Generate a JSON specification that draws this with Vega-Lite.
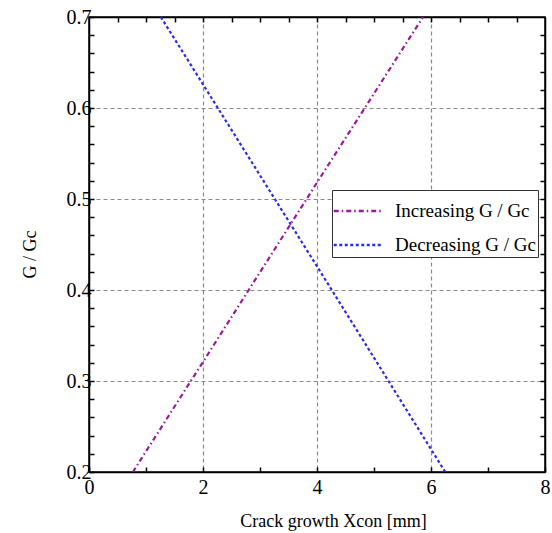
{
  "$schema": "https://vega.github.io/schema/vega-lite/v6.json",
  "autosize": "none",
  "width": 456,
  "height": 455,
  "padding": {"left": 89, "top": 17, "right": 7, "bottom": 61},
  "background": "white",
  "config": {
    "view": {"stroke": "black", "strokeWidth": 1.5},
    "font": "Liberation Serif"
  },
  "data": {
    "values": [
      {"series": "Increasing G / Gc", "x": 0.77, "y": 0.2},
      {"series": "Increasing G / Gc", "x": 2.0, "y": 0.321},
      {"series": "Increasing G / Gc", "x": 4.0, "y": 0.518},
      {"series": "Increasing G / Gc", "x": 5.86, "y": 0.7},
      {"series": "Decreasing G / Gc", "x": 1.26, "y": 0.7},
      {"series": "Decreasing G / Gc", "x": 2.0, "y": 0.626},
      {"series": "Decreasing G / Gc", "x": 4.0, "y": 0.426},
      {"series": "Decreasing G / Gc", "x": 6.25, "y": 0.2}
    ]
  },
  "resolve": {"axis": {"x": "independent", "y": "independent"}},
  "layer": [
    {
      "mark": {"type": "line", "strokeWidth": 2.2, "clip": true},
      "encoding": {
        "x": {
          "field": "x", "type": "quantitative",
          "scale": {"domain": [0, 8], "nice": false, "zero": false},
          "axis": {
            "orient": "bottom",
            "values": [0, 0.5, 1, 1.5, 2, 2.5, 3, 3.5, 4, 4.5, 5, 5.5, 6, 6.5, 7, 7.5, 8],
            "labelExpr": "datum.value % 2 === 0 ? datum.label : ''",
            "format": "d",
            "labelFont": "Liberation Serif", "labelFontSize": 20, "labelColor": "black",
            "labelPadding": 10, "labelFlush": false, "labelOverlap": false,
            "tickSize": -5, "tickColor": "black", "tickWidth": 1.5,
            "domainColor": "black", "domainWidth": 1.5,
            "grid": true, "gridColor": "#8a8a8a", "gridDash": [4, 3], "gridWidth": 1.2,
            "gridOpacity": {"condition": {"test": "datum.value % 2 === 0 && datum.value > 0 && datum.value < 8", "value": 1}, "value": 0},
            "title": "Crack growth  Xcon [mm]",
            "titleFont": "Liberation Serif", "titleFontSize": 18, "titleFontWeight": "normal", "titleColor": "black",
            "titlePadding": 15, "titleX": 244
          }
        },
        "y": {
          "field": "y", "type": "quantitative",
          "scale": {"domain": [0.2, 0.7], "nice": false, "zero": false},
          "axis": {
            "orient": "left",
            "values": [0.2, 0.22, 0.24, 0.26, 0.28, 0.3, 0.32, 0.34, 0.36, 0.38, 0.4, 0.42, 0.44, 0.46, 0.48, 0.5, 0.52, 0.54, 0.56, 0.58, 0.6, 0.62, 0.64, 0.66, 0.68, 0.7],
            "format": ".1f",
            "labelExpr": "abs(datum.value * 10 - round(datum.value * 10)) < 0.001 ? datum.label : ''",
            "labelFont": "Liberation Serif", "labelFontSize": 20, "labelColor": "black",
            "labelPadding": 3, "labelFlush": false, "labelOverlap": false,
            "tickSize": -5, "tickColor": "black", "tickWidth": 1.5,
            "domainColor": "black", "domainWidth": 1.5,
            "grid": true, "gridColor": "#8a8a8a", "gridDash": [4, 3], "gridWidth": 1.2,
            "gridOpacity": {"condition": {"test": "abs(datum.value * 10 - round(datum.value * 10)) < 0.001 && datum.value > 0.21 && datum.value < 0.69", "value": 1}, "value": 0},
            "title": "G / Gc",
            "titleFont": "Liberation Serif", "titleFontSize": 18, "titleFontWeight": "normal", "titleColor": "black",
            "titlePadding": 27, "titleY": 237
          }
        },
        "color": {
          "field": "series", "type": "nominal",
          "scale": {"domain": ["Increasing G / Gc", "Decreasing G / Gc"], "range": ["#9b1a9b", "#2a2af0"]},
          "legend": {
            "orient": "none", "legendX": 243, "legendY": 173,
            "title": null,
            "direction": "vertical",
            "fillColor": "white", "strokeColor": "#333333",
            "padding": 2,
            "symbolType": "M-1.4,0H1.4", "symbolSize": 1200, "symbolStrokeWidth": 2.5,
            "symbolOffset": 5,
            "labelFont": "Liberation Serif", "labelFontSize": 19, "labelColor": "black",
            "labelOffset": 18, "rowPadding": 5
          }
        },
        "strokeDash": {
          "field": "series", "type": "nominal",
          "scale": {"domain": ["Increasing G / Gc", "Decreasing G / Gc"], "range": [[5, 3, 1.5, 3], [3, 2.5]]},
          "legend": null
        }
      }
    },
    {
      "mark": {"type": "line", "strokeOpacity": 0},
      "encoding": {
        "x": {
          "field": "x", "type": "quantitative",
          "scale": {"domain": [0, 8], "nice": false, "zero": false},
          "axis": {
            "orient": "top",
            "values": [0.5, 1, 1.5, 2, 2.5, 3, 3.5, 4, 4.5, 5, 5.5, 6, 6.5, 7, 7.5],
            "labels": false, "grid": false, "title": null,
            "tickSize": -5, "tickColor": "black", "tickWidth": 1.5,
            "domainColor": "black", "domainWidth": 1.5
          }
        },
        "y": {
          "field": "y", "type": "quantitative",
          "scale": {"domain": [0.2, 0.7], "nice": false, "zero": false},
          "axis": {
            "orient": "right",
            "values": [0.22, 0.24, 0.26, 0.28, 0.3, 0.32, 0.34, 0.36, 0.38, 0.4, 0.42, 0.44, 0.46, 0.48, 0.5, 0.52, 0.54, 0.56, 0.58, 0.6, 0.62, 0.64, 0.66, 0.68],
            "labels": false, "grid": false, "title": null,
            "tickSize": -5, "tickColor": "black", "tickWidth": 1.5,
            "domainColor": "black", "domainWidth": 1.5
          }
        },
        "detail": {"field": "series", "type": "nominal"}
      }
    }
  ]
}
